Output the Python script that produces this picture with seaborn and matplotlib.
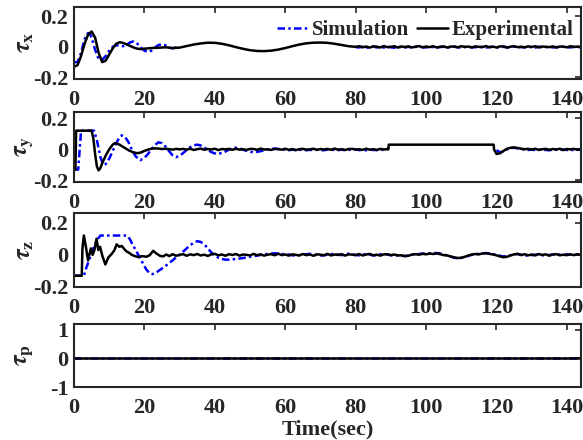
import numpy as np
import pandas as pd
import seaborn as sns
import matplotlib.pyplot as plt

# ---------------- tau_x ----------------
tx_exp_t = [0, 1, 2, 3, 4, 5, 6, 7, 8, 9, 10, 11, 12, 13, 14, 15, 16, 17, 18, 19, 20,
            22, 24, 26, 28, 30, 32, 34, 36, 38, 40, 42, 44, 46, 48, 50, 52, 54, 56, 58,
            60, 62, 64, 66, 68, 70, 72, 74, 76, 78, 80]
tx_exp_v = [-0.13, -0.12, -0.06, 0.02, 0.08, 0.10, 0.06, -0.04, -0.10, -0.09,
            -0.05, -0.01, 0.02, 0.03, 0.025, 0.015, 0.005, -0.005, -0.012, -0.015,
            -0.012,
            -0.008, -0.006, -0.003, -0.008, -0.005, 0.005, 0.015, 0.022, 0.027, 0.026,
            0.02, 0.01, -0.002, -0.013, -0.022, -0.027, -0.028, -0.025, -0.018, -0.008,
            0.004, 0.015, 0.023, 0.027, 0.028, 0.026, 0.02, 0.012, 0.004, 0.0]
tx_exp_tail = [0.004, -0.003, 0.002, -0.005, 0.003, 0.001, -0.004, 0.005, -0.002, 0.000,
               0.004, -0.005, 0.002, -0.001, 0.003, -0.004, 0.001, 0.005, -0.003, 0.002,
               -0.002, 0.004, -0.004, 0.000, 0.003, -0.005, 0.002, 0.001, -0.003, 0.004,
               -0.001, 0.002, -0.004, 0.003, 0.000, -0.002, 0.005, -0.003, 0.001, -0.004,
               0.003, 0.002, -0.005, 0.001, 0.004, -0.002, 0.000, -0.003, 0.003, -0.001,
               0.004, -0.004, 0.002, 0.000, -0.002, 0.003, -0.005, 0.002, 0.001, -0.003,
               0.004, -0.001, 0.002, -0.002]

tx_sim_t1 = [0, 1, 2, 3, 4, 4.5, 5, 6, 7, 8, 9, 10, 11, 12, 13, 14, 15, 16, 17, 18,
             19, 20, 21, 22, 23, 24, 25, 26, 27, 28, 29, 30]
tx_sim_v1 = [-0.10, -0.10, -0.04, 0.05, 0.09, 0.085, 0.06, -0.02, -0.08, -0.085,
             -0.06, -0.025, 0.0, 0.01, 0.008, 0.004, 0.015, 0.03, 0.035, 0.02,
             -0.005, -0.025, -0.033, -0.025, -0.005, 0.012, 0.016, 0.01, -0.005, -0.01,
             -0.004, 0.0]
tx_sim_tail = [-0.002, -0.004, 0.001, -0.005, -0.002, 0.002, -0.004, -0.001, -0.005, 0.000,
               -0.003, -0.006, 0.001, -0.002, -0.004, 0.000, -0.005, -0.001, 0.002, -0.003,
               -0.004, 0.001, -0.002, -0.005, -0.001, 0.000, -0.004, -0.002, 0.002, -0.003,
               -0.005, -0.001, 0.001, -0.004, -0.002, -0.003, 0.000, -0.005, -0.001, 0.001,
               -0.003, -0.004, 0.000, -0.002, -0.005, 0.001, -0.003, -0.001, -0.004, 0.000,
               -0.002, -0.005, 0.001, -0.003, -0.002, 0.000, -0.004, -0.001, -0.003, 0.001,
               -0.002, -0.004, 0.000, -0.003, -0.001, -0.002]

# ---------------- tau_y ----------------
ty_exp_t = [0, 0.4, 0.6, 1, 2, 3, 4, 5, 5.5, 6, 6.5, 7, 7.5, 8, 9, 10, 11, 11.6,
            12.5, 13.5, 14.5, 15.5, 16.5, 17.5, 18, 19, 20, 21, 22, 23, 24, 25, 26,
            27, 28, 29, 30]
ty_exp_v = [-0.13, -0.13, 0.12, 0.12, 0.12, 0.12, 0.12, 0.12,
            0.07, -0.03, -0.11, -0.135, -0.12, -0.09,
            -0.04, 0.0, 0.03, 0.04,
            0.035, 0.022, 0.008, -0.006, -0.016, -0.023,
            -0.025, -0.02, -0.01, -0.002, 0.004, 0.006, 0.005, 0.002, 0.004, 0.001,
            -0.002, 0.003, 0.0]
ty_exp_mid = [0.003, -0.002, 0.004, -0.004, 0.001, 0.005, -0.003, 0.002, -0.001, 0.004,
              -0.005, 0.002, 0.000, 0.003, -0.003, 0.004, -0.002, 0.001, -0.004, 0.003,
              0.002, -0.003, 0.005, -0.001, 0.000, -0.004, 0.003, 0.001, -0.002, 0.004,
              -0.003, 0.002, -0.005, 0.001, 0.003, -0.002, 0.000, 0.004, -0.004, 0.002,
              -0.001, 0.003, -0.003, 0.005, -0.002, 0.001, -0.004, 0.002, 0.003, -0.001,
              0.000, -0.003, 0.004, -0.002, 0.001, -0.004, 0.003, -0.001, 0.002]
ty_step_t = [89.3, 89.4, 119.2, 119.3, 120.0, 121, 122, 123, 124, 125, 126, 127, 128]
ty_step_v = [0.0, 0.03, 0.03, 0.0, -0.03, -0.025, -0.01, 0.004, 0.01, 0.012, 0.009, 0.004, 0.001]
ty_exp_tail = [0.003, -0.002, 0.004, -0.004, 0.001, 0.003, -0.003, 0.002, -0.001, 0.004,
               -0.005, 0.002, 0.000, 0.003, -0.003, 0.002, -0.001]

ty_sim_t1 = [0, 1.2, 2.0, 3, 4, 5, 5.7, 6.5, 7.5, 8.3, 9, 10, 11, 12, 13, 13.6, 14.5,
             15.5, 16.5, 17.5, 18.8, 20, 21, 22, 23, 24, 25, 26, 27, 28, 29, 30, 31, 32,
             33, 34, 35, 36, 37, 38, 39, 40.5, 42, 43, 44, 45, 46, 47, 48, 49, 51, 53,
             55, 57, 59]
ty_sim_v1 = [-0.13, -0.13, 0.12, 0.12, 0.12, 0.12, 0.12,
             0.06, -0.05, -0.10, -0.095, -0.06,
             -0.01, 0.04, 0.08, 0.09, 0.08,
             0.045, -0.005, -0.045, -0.07, -0.055,
             -0.03, 0.0, 0.028, 0.045, 0.04, 0.018, -0.012, -0.038, -0.05, -0.042,
             -0.024, -0.004, 0.014, 0.026, 0.03, 0.025, 0.012, -0.004, -0.018,
             -0.03,
             -0.024, -0.014, -0.002, 0.008, 0.01, 0.006, -0.002, -0.01,
             -0.02, -0.012, 0.0, 0.005, 0.0]
ty_sim_mid = [-0.003, -0.006, -0.002, -0.005, -0.004, -0.001, -0.006, -0.003, -0.005, -0.002,
              -0.004, -0.006, -0.001, -0.004, -0.003, -0.005, -0.002, -0.006, -0.003, -0.004,
              -0.001, -0.005, -0.003, -0.006, -0.002, -0.004, -0.005, -0.002, -0.004, -0.003]
ty_sim_t2 = [120, 121, 122, 123, 124, 125, 126, 127, 128]
ty_sim_v2 = [-0.005, -0.02, -0.012, 0.0, 0.008, 0.01, 0.006, 0.002, -0.002]
ty_sim_tail = [-0.004, -0.002, -0.005, -0.003, -0.001, -0.004, -0.006, -0.002, -0.003,
               -0.005, -0.001, -0.004, -0.003, -0.005, -0.002, -0.004, -0.003]

# ---------------- tau_z ----------------
tz_exp_t = [0, 2.2, 2.4, 2.8, 3.3, 4.0, 4.8, 5.3, 5.8, 6.4, 6.9, 7.4, 8.1, 8.9, 9.8,
            10.7, 11.5, 12.1, 12.9, 13.6, 14.3, 15.0, 15.7, 16.4, 17.3, 18.3, 19.3,
            20.6, 21.5, 22.5, 23.4, 24.4, 25.3, 26.2, 27.1, 28, 29, 30]
tz_exp_v = [-0.13, -0.13, 0.04, 0.12, 0.06, -0.035, 0.04, 0.0, 0.03, 0.10,
            0.03, 0.05, -0.01, -0.06, -0.015, 0.005, 0.03, 0.065, 0.05, 0.055,
            0.035, 0.02, 0.012, 0.0, -0.008, -0.014, -0.008, -0.012, -0.002, 0.025,
            0.008, -0.006, -0.01, 0.002, -0.008, 0.004, -0.006, 0.0]
tz_exp_tail = [0.004, -0.006, 0.003, -0.002, 0.005, -0.004, 0.001, -0.007, 0.003, 0.006,
               -0.003, 0.002, -0.006, 0.004, -0.001, 0.005, -0.005, 0.002, 0.000, -0.004,
               0.006, -0.002, 0.003, -0.005, 0.001, 0.004, -0.003, 0.007, -0.002, 0.002,
               -0.005, 0.003, 0.000, -0.004, 0.005, -0.002, 0.002, -0.006, 0.003, 0.001,
               -0.003, 0.006, -0.004, 0.002, -0.001, 0.004, -0.005, 0.003, 0.001, -0.002,
               0.005, -0.004, 0.002, 0.006, -0.003, 0.001, -0.005, 0.003, 0.004, -0.002,
               0.002, -0.004, -0.003, -0.008, -0.006, 0.002, 0.004, 0.001, 0.006, 0.003,
               0.008, 0.005, 0.009, 0.004, -0.002, -0.004, -0.010, -0.016, -0.020, -0.018,
               -0.012, -0.004, 0.002, 0.005, 0.003, 0.008, 0.010, 0.006, 0.002, -0.003,
               -0.010, -0.015, -0.012, -0.004, 0.003, 0.006, -0.002, 0.004, -0.003, 0.002,
               -0.004, 0.005, -0.001, 0.003, -0.005, 0.002, 0.004, -0.003, 0.001, -0.002,
               0.003, -0.002, 0.004, 0.000, 0.002]

tz_sim_t1 = [0, 2.8, 3.5, 4.5, 5.5, 6.5, 7.5, 8.3, 15, 15.8, 16.5, 17.5, 18.5, 19.5,
             20.5, 21.5, 22.3, 23, 24, 25, 26, 27, 28, 29, 30, 31, 32, 33, 34, 35, 36,
             37, 38, 39, 40, 41, 42, 43, 44, 45, 46, 48, 50, 52, 54, 56, 57, 58, 60]
tz_sim_v1 = [-0.13, -0.13, -0.08, -0.02, 0.04, 0.09, 0.12, 0.12,
             0.12, 0.1, 0.07, 0.03, -0.01, -0.05, -0.09, -0.115, -0.12,
             -0.115, -0.1, -0.085, -0.07, -0.05, -0.035, -0.015, 0.0, 0.02, 0.04,
             0.06, 0.075, 0.085, 0.08, 0.065, 0.04, 0.015, -0.005, -0.018, -0.026,
             -0.03, -0.03, -0.028, -0.026,
             -0.02, -0.012, -0.005, 0.003, 0.008, 0.01, 0.008, 0.003]
tz_sim_tail = [0.002, -0.003, -0.005, -0.002, 0.001, 0.004, 0.006, 0.003, -0.002, -0.004,
               -0.003, 0.001, 0.004, 0.006, 0.002, -0.002, 0.003, 0.007, 0.004, -0.001,
               -0.003, 0.002, 0.005, 0.001, -0.004, -0.002, 0.003, 0.006, 0.002, -0.003,
               -0.005, -0.003, -0.006, -0.008, -0.004, 0.001, 0.003, 0.005, 0.008, 0.006,
               0.010, 0.012, 0.011, 0.008, 0.002, -0.004, -0.012, -0.018, -0.022, -0.02,
               -0.014, -0.006, 0.0, 0.004, 0.006, 0.009, 0.011, 0.008, 0.004, 0.0,
               -0.006, -0.01, -0.008, -0.002, 0.003, 0.005, 0.001, -0.003, -0.005, -0.002,
               0.001, 0.003, -0.002, -0.004, -0.001, 0.002, 0.004, 0.001, -0.002, 0.003,
               0.001, -0.001, 0.002, 0.000, 0.001]

# ---------------- tau_p ----------------
tp_exp_t = [0, 143.5]
tp_exp_v = [0, 0]
tp_sim_t = [0, 145]
tp_sim_v = [0, 0]


def seg(t, v):
    return pd.DataFrame({'t': list(t), 'v': list(v)})


def tail(start, vals):
    return seg(np.arange(len(vals)) + start, vals)


sim_data = [
    [seg(tx_sim_t1, tx_sim_v1), tail(80, tx_sim_tail)],
    [pd.concat([seg(ty_sim_t1, ty_sim_v1), tail(60, ty_sim_mid)]),
     pd.concat([seg(ty_sim_t2, ty_sim_v2), tail(129, ty_sim_tail)])],
    [pd.concat([seg(tz_sim_t1, tz_sim_v1), tail(61, tz_sim_tail)])],
    [seg(tp_sim_t, tp_sim_v)],
]
exp_data = [
    [pd.concat([seg(tx_exp_t, tx_exp_v), tail(81, tx_exp_tail)])],
    [pd.concat([seg(ty_exp_t, ty_exp_v), tail(31, ty_exp_mid),
                seg(ty_step_t, ty_step_v), tail(129, ty_exp_tail)])],
    [pd.concat([seg(tz_exp_t, tz_exp_v), tail(31, tz_exp_tail)])],
    [seg(tp_exp_t, tp_exp_v)],
]

ylabels = [r'$\tau_{\mathbf{x}}$', r'$\tau_{\mathbf{y}}$', r'$\tau_{\mathbf{z}}$', r'$\tau_{\mathbf{p}}$']
ylims = [(-0.21, 0.26), (-0.21, 0.24), (-0.2, 0.26), (-1, 1.2)]
yticks = [[-0.2, 0, 0.2], [-0.2, 0, 0.2], [-0.2, 0, 0.2], [-1, 0, 1]]
yticklabels = [['-0.2', '0', '0.2'], ['-0.2', '0', '0.2'], ['-0.2', '0', '0.2'], ['-1', '0', '1']]
xticks = [0, 20, 40, 60, 80, 100, 120, 140]

sns.set_theme(style='white')
plt.rcParams['font.family'] = ['Liberation Serif', 'DejaVu Serif']
plt.rcParams['font.weight'] = 'bold'
plt.rcParams['axes.unicode_minus'] = False
plt.rcParams['mathtext.fontset'] = 'stix'

W, H = 583, 440
fig = plt.figure(figsize=(W / 100, H / 100), dpi=100)

# panel edges in pixels (top, bottom)
edges = [(7, 79), (112, 182), (213, 287), (324, 387)]
dark = '#262626'
sim_style = dict(color='#0000ff', linestyle=(0, (3, 1.3, 1, 1.3)), linewidth=1.8)
exp_style = dict(color='black', linestyle='-', linewidth=1.8)

for i, (top, bot) in enumerate(edges):
    ax = fig.add_axes([74 / W, 1 - bot / H, (581 - 74) / W, (bot - top) / H])
    for df in sim_data[i]:
        sns.lineplot(data=df, x='t', y='v', ax=ax, estimator=None, sort=False, **sim_style)
    for df in exp_data[i]:
        sns.lineplot(data=df, x='t', y='v', ax=ax, estimator=None, sort=False, **exp_style)

    ax.set_xlim(0, 144)
    ax.set_ylim(*ylims[i])
    ax.set_xticks(xticks)
    ax.set_xticklabels([str(x) for x in xticks])
    ax.set_yticks(yticks[i])
    ax.set_yticklabels(yticklabels[i])
    ax.tick_params(direction='in', top=True, right=True, length=4, width=1.2,
                   color=dark, labelcolor=dark, labelsize=16)
    ax.tick_params(axis='x', pad=8)
    ax.tick_params(axis='y', pad=4)
    for sp in ax.spines.values():
        sp.set_color(dark)
        sp.set_linewidth(1.5)
        sp.set_visible(True)

    ax.set_ylabel(ylabels[i], fontsize=18, color=dark)
    ax.yaxis.set_label_coords(-0.075, 0.5)
    ax.set_xlabel('')

    if i == 0:
        h_sim = plt.Line2D([], [], **sim_style)
        h_exp = plt.Line2D([], [], **exp_style)
        ax.legend([h_sim, h_exp], ['Simulation', 'Experimental'], loc='center right',
                  bbox_to_anchor=(0.985, 0.68), ncol=2, frameon=False, fontsize=15,
                  handlelength=1.5, handletextpad=0.15, columnspacing=0.4,
                  borderaxespad=0, borderpad=0)
    if i == 3:
        ax.set_xlabel('Time(sec)', fontsize=16, fontweight='bold', color=dark, labelpad=1)

fig.savefig('out.png', dpi=100)
